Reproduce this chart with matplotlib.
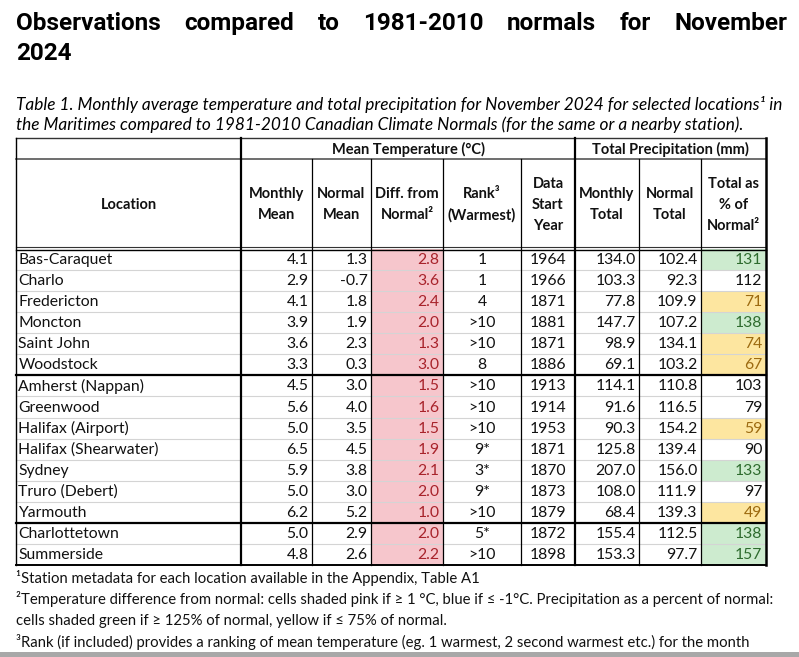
import matplotlib
matplotlib.use("Agg")
import matplotlib.pyplot as plt
from matplotlib import font_manager
from matplotlib.patches import Rectangle

locations = ["Bas-Caraquet", "Charlo", "Fredericton", "Moncton", "Saint John", "Woodstock",
             "Amherst (Nappan)", "Greenwood", "Halifax (Airport)", "Halifax (Shearwater)",
             "Sydney", "Truro (Debert)", "Yarmouth", "Charlottetown", "Summerside"]
monthly_mean = [4.1, 2.9, 4.1, 3.9, 3.6, 3.3, 4.5, 5.6, 5.0, 6.5, 5.9, 5.0, 6.2, 5.0, 4.8]
normal_mean = [1.3, -0.7, 1.8, 1.9, 2.3, 0.3, 3.0, 4.0, 3.5, 4.5, 3.8, 3.0, 5.2, 2.9, 2.6]
diff_normal = [2.8, 3.6, 2.4, 2.0, 1.3, 3.0, 1.5, 1.6, 1.5, 1.9, 2.1, 2.0, 1.0, 2.0, 2.2]
rank = ["1", "1", "4", ">10", ">10", "8", ">10", ">10", ">10", "9*", "3*", "9*", ">10", "5*", ">10"]
start_year = [1964, 1966, 1871, 1881, 1871, 1886, 1913, 1914, 1953, 1871, 1870, 1873, 1879, 1872, 1898]
monthly_total = [134.0, 103.3, 77.8, 147.7, 98.9, 69.1, 114.1, 91.6, 90.3, 125.8, 207.0, 108.0, 68.4, 155.4, 153.3]
normal_total = [102.4, 92.3, 109.9, 107.2, 134.1, 103.2, 110.8, 116.5, 154.2, 139.4, 156.0, 111.9, 139.3, 112.5, 97.7]
pct_normal = [131, 112, 71, 138, 74, 67, 103, 79, 59, 90, 133, 97, 49, 138, 157]
province_rows = [6, 7, 2]  # NB, NS, PEI

title_line1 = "Observations compared to 1981-2010 normals for November"
title_line2 = "2024"
caption = ["Table 1. Monthly average temperature and total precipitation for November 2024 for selected locations\u00b9 in",
           "the Maritimes compared to 1981-2010 Canadian Climate Normals (for the same or a nearby station)."]
footnotes = ["\u00b9Station metadata for each location available in the Appendix, Table A1",
             "\u00b2Temperature difference from normal: cells shaded pink if \u2265 1 \u00b0C, blue if \u2264 -1\u00b0C. Precipitation as a percent of normal:",
             "cells shaded green if \u2265 125% of normal, yellow if \u2264 75% of normal.",
             "\u00b3Rank (if included) provides a ranking of mean temperature (eg. 1 warmest, 2 second warmest etc.) for the month"]

names = {f.name for f in font_manager.fontManager.ttflist}
body = "Lato" if "Lato" in names else "DejaVu Sans"
title_font = "Roboto" if "Roboto" in names else "Liberation Sans"

W, H = 799, 657
fig = plt.figure(figsize=(W / 100, H / 100), dpi=100)
ax = fig.add_axes([0, 0, 1, 1])
ax.set_xlim(0, W)
ax.set_ylim(H, 0)
ax.axis("off")

# ---- title (justified first line) ----
r = fig.canvas.get_renderer()
words = title_line1.split()
arts = [ax.text(0, 30, w, fontsize=17.5, fontweight="bold", family=title_font, va="baseline") for w in words]
widths = [a.get_window_extent(r).width for a in arts]
gap = (787 - 16 - sum(widths)) / (len(words) - 1)
x = 16
for a, w in zip(arts, widths):
    a.set_x(x)
    x += w + gap
ax.text(16, 60, title_line2, fontsize=17.5, fontweight="bold", family=title_font, va="baseline")

ax.text(16, 110, caption[0], fontsize=12.45, style="italic", family=body, va="baseline")
ax.text(16, 130, caption[1], fontsize=12.45, style="italic", family=body, va="baseline")

# ---- table geometry ----
cx = [16, 241, 312, 371, 443, 521, 575, 639, 701, 766]
top, mid, hb = 138, 159, 248.5
rh = 21.07
n = len(locations)
ry = [249 + i * rh for i in range(n + 1)]

pink, pink_t = "#F6C6CC", "#A8232B"
green, green_t = "#CDEBCF", "#2E6B2E"
yellow, yellow_t = "#FDE6A0", "#9C6A10"
blue, blue_t = "#C6DBF0", "#1F4E79"

for i in range(n):
    y0, y1 = ry[i], ry[i + 1]
    if diff_normal[i] >= 1:
        ax.add_patch(Rectangle((cx[3], y0), cx[4] - cx[3], y1 - y0, color=pink, lw=0))
    elif diff_normal[i] <= -1:
        ax.add_patch(Rectangle((cx[3], y0), cx[4] - cx[3], y1 - y0, color=blue, lw=0))
    if pct_normal[i] >= 125:
        ax.add_patch(Rectangle((cx[8], y0), cx[9] - cx[8], y1 - y0, color=green, lw=0))
    elif pct_normal[i] <= 75:
        ax.add_patch(Rectangle((cx[8], y0), cx[9] - cx[8], y1 - y0, color=yellow, lw=0))

# light row rules
for i in range(1, n):
    ax.plot([cx[0], cx[9]], [ry[i], ry[i]], color="#d4d4d4", lw=0.8)

# group rules
acc = 0
for k in province_rows[:-1]:
    acc += k
    ax.plot([cx[0], cx[9]], [ry[acc], ry[acc]], color="black", lw=1.6)

# header rules
ax.plot([cx[0], cx[9]], [top, top], color="#333333", lw=1.0)
ax.plot([cx[0], cx[9]], [mid, mid], color="#555555", lw=1.2)
ax.plot([cx[0], cx[9]], [hb - 1.2, hb - 1.2], color="#333333", lw=0.8)
ax.plot([cx[0], cx[9]], [hb + 1.0, hb + 1.0], color="black", lw=1.0)
ax.plot([cx[0], cx[9]], [ry[-1], ry[-1]], color="black", lw=1.4)

# vertical rules
heavy = {0: 1.0, 1: 1.6, 6: 1.6, 9: 1.8}
for j, xv in enumerate(cx):
    y_start = top if j in heavy else mid
    ax.plot([xv, xv], [y_start, ry[-1]], color="black", lw=heavy.get(j, 0.9))

# ---- header text ----
hkw = dict(fontsize=10.5, fontweight="bold", family=body, ha="center", va="center", color="#111111")
ax.text((cx[1] + cx[6]) / 2, 149, "Mean Temperature (\u00b0C)", **hkw)
ax.text((cx[6] + cx[9]) / 2, 149, "Total Precipitation (mm)", **hkw)
headers = [["Location"], ["Monthly", "Mean"], ["Normal", "Mean"], ["Diff. from", "Normal\u00b2"],
           ["Rank\u00b3", "(Warmest)"], ["Data", "Start", "Year"], ["Monthly", "Total"],
           ["Normal", "Total"], ["Total as", "% of", "Normal\u00b2"]]
hc = (mid + hb) / 2 + 1
for j, lines in enumerate(headers):
    xc = (cx[j] + cx[j + 1]) / 2
    for k, t in enumerate(lines):
        ax.text(xc, hc + (k - (len(lines) - 1) / 2) * 21, t, **hkw)

# ---- body text ----
bkw = dict(fontsize=11.3, family=body, va="center")
for i in range(n):
    yc = (ry[i] + ry[i + 1]) / 2 + 0.5
    ax.text(cx[0] + 2.5, yc, locations[i], ha="left", color="#111111", **bkw)
    ax.text(cx[2] - 3.5, yc, f"{monthly_mean[i]:.1f}", ha="right", color="#111111", **bkw)
    ax.text(cx[3] - 3.5, yc, f"{normal_mean[i]:.1f}", ha="right", color="#111111", **bkw)
    dcol = pink_t if diff_normal[i] >= 1 else (blue_t if diff_normal[i] <= -1 else "#111111")
    ax.text(cx[4] - 3.5, yc, f"{diff_normal[i]:.1f}", ha="right", color=dcol, **bkw)
    ax.text((cx[4] + cx[5]) / 2, yc, rank[i], ha="center", color="#111111", **bkw)
    ax.text((cx[5] + cx[6]) / 2, yc, str(start_year[i]), ha="center", color="#111111", **bkw)
    ax.text(cx[7] - 3.5, yc, f"{monthly_total[i]:.1f}", ha="right", color="#111111", **bkw)
    ax.text(cx[8] - 3.5, yc, f"{normal_total[i]:.1f}", ha="right", color="#111111", **bkw)
    pcol = green_t if pct_normal[i] >= 125 else (yellow_t if pct_normal[i] <= 75 else "#111111")
    ax.text(cx[9] - 3.5, yc, str(pct_normal[i]), ha="right", color=pcol, **bkw)

# ---- footnotes ----
for k, t in enumerate(footnotes):
    ax.text(16, 583 + k * 21.2, t, fontsize=10.75, family=body, va="baseline", color="#111111")

ax.add_patch(Rectangle((0, 652), W, 5, color="#a8a8a8", lw=0))

fig.savefig("out.png", dpi=100)
